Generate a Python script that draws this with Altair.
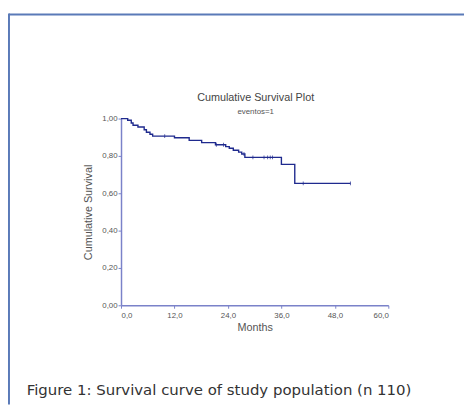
import altair as alt
import pandas as pd

# Kaplan-Meier step curve (months, cumulative survival)
times = [0.0, 1.5, 2.3, 2.7, 3.8, 5.2, 5.7, 6.5, 7.1, 12.0, 15.3, 18.1, 21.2,
         23.5, 24.3, 25.2, 26.4, 27.1, 27.8, 36.0, 39.0, 51.5]
surv = [1.000, 0.991, 0.976, 0.964, 0.955, 0.940, 0.927, 0.916, 0.906, 0.897,
        0.883, 0.871, 0.860, 0.850, 0.841, 0.830, 0.820, 0.810, 0.792, 0.755,
        0.653, 0.653]

# censored observations (tick marks)
cens_times = [9.8, 21.4, 23.0, 27.6, 29.6, 32.1, 32.9, 33.5, 34.0, 40.9, 51.5]
cens_surv = [0.906, 0.860, 0.860, 0.810, 0.792, 0.792, 0.792, 0.792, 0.792, 0.653, 0.653]

x_ticks = [0, 12, 24, 36, 48, 60]
y_ticks = [0.0, 0.2, 0.4, 0.6, 0.8, 1.0]

title_text = "Cumulative Survival Plot"
subtitle_text = "eventos=1"
caption_text = "Figure 1: Survival curve of study population (n 110)"

curve = pd.DataFrame({"t": times, "s": surv})
cens = pd.DataFrame({"t": cens_times, "s": cens_surv})

LINE = "#1f2a8e"
AXIS = "#7a82c9"
FRAME = "#5a7ab8"

xs = alt.Scale(domain=[0, 60], nice=False)
ys = alt.Scale(domain=[0, 1], nice=False)

x_axis = alt.Axis(values=x_ticks, format=".1f", tickCount=12,
                  labelExpr="replace(datum.label, '.', ',')",
                  title="Months", grid=False, labelOverlap=False)
y_axis = alt.Axis(values=y_ticks, format=".2f", tickCount=12,
                  labelExpr="replace(datum.label, '.', ',')",
                  title="Cumulative Survival", grid=False, labelOverlap=False)

line = alt.Chart(curve).mark_line(interpolate="step-after", color=LINE,
                                  strokeWidth=1.4).encode(
    x=alt.X("t:Q", scale=xs, axis=x_axis),
    y=alt.Y("s:Q", scale=ys, axis=y_axis),
)

ticks = alt.Chart(cens).mark_tick(orient="vertical", color=LINE, size=4,
                                  thickness=1).encode(
    x=alt.X("t:Q", scale=xs, axis=x_axis),
    y=alt.Y("s:Q", scale=ys, axis=y_axis),
)

one = pd.DataFrame({"a": [0]})
frame_top = alt.Chart(one).mark_rule(color=FRAME, strokeWidth=2).encode(
    x=alt.value(-114), x2=alt.value(349), y=alt.value(-106))
frame_left = alt.Chart(one).mark_rule(color=FRAME, strokeWidth=2).encode(
    x=alt.value(-114), y=alt.value(-107), y2=alt.value(291))

title = alt.Chart(pd.DataFrame({"c": [title_text]})).mark_text(
    align="center", baseline="alphabetic", font="Liberation Sans",
    fontSize=11, color="#444").encode(
    x=alt.value(137), y=alt.value(-18), text="c:N")
subtitle = alt.Chart(pd.DataFrame({"c": [subtitle_text]})).mark_text(
    align="center", baseline="alphabetic", font="Liberation Sans",
    fontSize=8, color="#555").encode(
    x=alt.value(137), y=alt.value(-5), text="c:N")

caption = alt.Chart(pd.DataFrame({"c": [caption_text]})).mark_text(
    align="left", baseline="alphabetic", font="DejaVu Sans",
    fontSize=15.2, color="#333").encode(
    x=alt.value(-96), y=alt.value(281), text="c:N")

chart = alt.layer(line, ticks, frame_top, frame_left, title, subtitle,
                  caption).properties(
    width=272, height=190,
    autosize=alt.AutoSizeParams(type="none"),
    padding={"left": 115, "top": 109, "right": 77, "bottom": 101},
).configure_view(stroke=None).configure_axis(
    domainColor=AXIS, domainWidth=1.5, tickColor=AXIS, tickSize=3,
    labelColor="#555", labelFontSize=8, labelFont="Liberation Sans",
    titleColor="#555", titleFontSize=11, titleFontWeight="normal",
    titleFont="Liberation Sans", labelOverlap=False,
).configure_axisY(labelPadding=1, titlePadding=8).configure_axisX(
    labelPadding=3, titlePadding=3)

chart.save("out.html", embed_options={"renderer": "svg", "actions": False})
